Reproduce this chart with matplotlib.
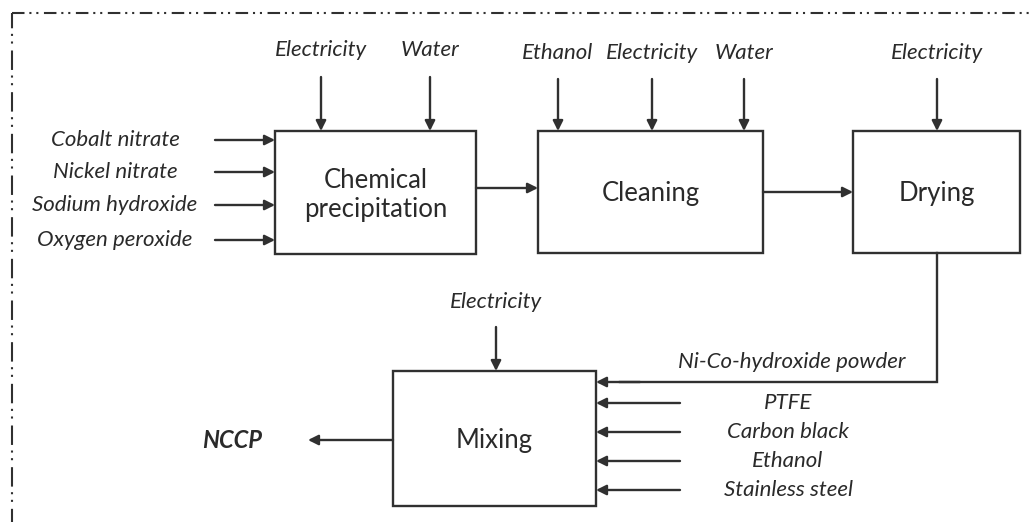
import matplotlib
matplotlib.use("Agg")
import matplotlib.pyplot as plt
from matplotlib.patches import Rectangle

# ---- data (texts) ----
process_names = ["Chemical\nprecipitation", "Cleaning", "Drying", "Mixing"]
chem_top_inputs = ["Electricity", "Water"]
chem_left_inputs = ["Cobalt nitrate", "Nickel nitrate", "Sodium hydroxide", "Oxygen peroxide"]
clean_top_inputs = ["Ethanol", "Electricity", "Water"]
dry_top_inputs = ["Electricity"]
mix_top_inputs = ["Electricity"]
intermediate = "Ni-Co-hydroxide powder"
mix_right_inputs = ["PTFE", "Carbon black", "Ethanol", "Stainless steel"]
product = "NCCP"

# ---- layout (pixels) ----
W, H = 1030, 522
boxes = [(275, 131, 476, 254), (538, 131, 763, 253), (853, 131, 1020, 253), (393, 371, 596, 506)]
chem_top_x = [321, 430]
chem_left_y = [140, 172, 205, 240]
clean_top_x = [558, 652, 744]
dry_top_x = [937]
mix_top_x = [496]
mix_right_y = [403, 432, 461, 490]

plt.rcParams["lines.scale_dashes"] = False
LC = "#303030"
TC = "#2a2a2a"
LW = 1.7
FONT = ["Lato", "DejaVu Sans"]
LSIZE = 16
BSIZE = 18.5

fig = plt.figure(figsize=(W / 100, H / 100), dpi=100)
ax = fig.add_axes([0, 0, 1, 1])
ax.set_xlim(0, W)
ax.set_ylim(H, 0)
ax.axis("off")

def arrow(x0, y0, x1, y1):
    ax.annotate("", xy=(x1, y1), xytext=(x0, y0),
                arrowprops=dict(arrowstyle="-|>", color=LC, lw=LW,
                                mutation_scale=15, shrinkA=0, shrinkB=0))

def label(x, y, s, size=LSIZE, ha="center", style="italic", weight="normal"):
    ax.text(x, y, s, ha=ha, va="center", fontsize=size, fontstyle=style,
            fontweight=weight, family=FONT, color=TC)

# border
ax.plot([12, W], [13, 13], color=LC, lw=1.5, linestyle=(0, (9, 3.5, 1.5, 3.5, 1.5, 4)))
ax.plot([12, 12], [13, H], color=LC, lw=1.5, linestyle=(3, (14, 4, 1.5, 4, 1.5, 5)))

# boxes
for (x0, y0, x1, y1), name in zip(boxes, process_names):
    ax.add_patch(Rectangle((x0, y0), x1 - x0, y1 - y0, fill=False, ec=LC, lw=LW))
    ax.text((x0 + x1) / 2, (y0 + y1) / 2 + 2, name, ha="center", va="center",
            fontsize=BSIZE, family=FONT, color=TC, linespacing=1.2)

# chemical precipitation inputs
for x, s in zip(chem_top_x, chem_top_inputs):
    label(x, 50, s)
    arrow(x, 77, x, 131)
for y, s in zip(chem_left_y, chem_left_inputs):
    label(115, y, s)
    arrow(215, y, 275, y)

# chem -> cleaning
arrow(476, 188, 538, 188)

for x, s in zip(clean_top_x, clean_top_inputs):
    label(x, 53, s)
    arrow(x, 79, x, 131)

# cleaning -> drying
arrow(763, 192, 853, 192)

for x, s in zip(dry_top_x, dry_top_inputs):
    label(x, 53, s)
    arrow(x, 79, x, 131)

# drying -> mixing
ax.plot([937, 937, 620], [253, 382, 382], color=LC, lw=LW, solid_joinstyle="miter")
arrow(640, 382, 596, 382)
label(792, 362, intermediate)

for x, s in zip(mix_top_x, mix_top_inputs):
    label(x, 302, s)
    arrow(x, 327, x, 371)

for y, s in zip(mix_right_y, mix_right_inputs):
    label(788, y, s)
    arrow(680, y, 596, y)

# product
arrow(393, 440, 308, 440)
label(232, 441, product, size=17, weight="bold")

fig.savefig("out.png", dpi=100)
